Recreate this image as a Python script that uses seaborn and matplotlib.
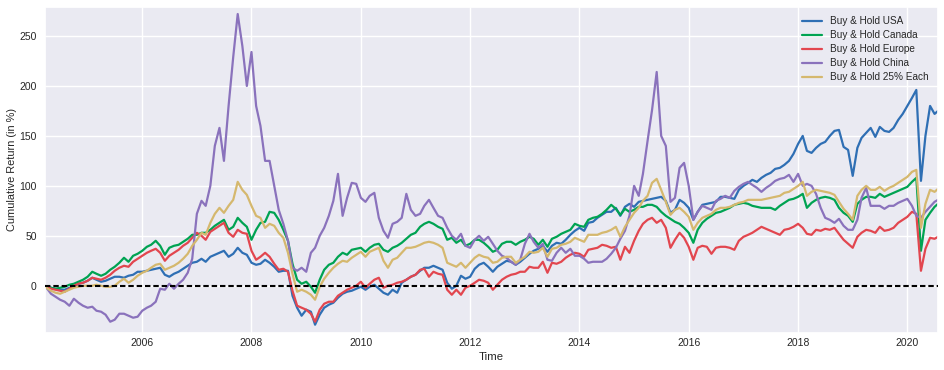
import pandas as pd
import matplotlib.pyplot as plt
import matplotlib.dates as mdates
import seaborn as sns

# month-start grid plus first and last trading day
months = pd.date_range("2004-04-01", "2020-07-01", freq="MS")
dates = pd.DatetimeIndex([pd.Timestamp("2004-03-22")]).append(months).append(
    pd.DatetimeIndex([pd.Timestamp("2020-07-24")]))

strategies = ["Buy & Hold USA", "Buy & Hold Canada", "Buy & Hold Europe",
              "Buy & Hold China", "Buy & Hold 25% Each"]

usa = [
    0,
    -1, -2, -3, -4, -4, -2, -1, 2, 3,
    5, 8, 6, 4, 5, 7, 9, 9, 8, 10, 11, 14,
    14, 15, 16, 17, 18, 11, 9, 12, 14, 17, 20, 23,
    24, 27, 24, 29, 31, 33, 35, 29, 32, 38, 33, 31,
    23, 21, 22, 26, 23, 19, 14, 15, 15, -10, -22, -30,
    -24, -26, -39, -29, -22, -19, -17, -12, -8, -6, -5, -3,
    -1, -4, -1, 1, -3, -7, -9, -4, -7, 3, 6, 9,
    11, 15, 18, 18, 20, 18, 16, 3, -3, 0, 10, 7,
    9, 17, 21, 23, 19, 14, 19, 22, 25, 24, 21, 24,
    28, 32, 35, 37, 40, 34, 40, 43, 42, 46, 51, 55,
    58, 55, 63, 64, 68, 71, 74, 74, 78, 70, 79, 82,
    79, 84, 85, 86, 87, 88, 89, 85, 73, 76, 86, 83,
    78, 66, 74, 81, 82, 83, 84, 89, 89, 88, 87, 96,
    100, 103, 106, 104, 108, 111, 113, 117, 118, 121, 125, 132,
    142, 150, 135, 133, 138, 142, 144, 150, 155, 156, 139, 136,
    110, 138, 148, 153, 158, 149, 159, 155, 154, 158, 166, 172,
    180, 188, 196, 105, 150, 180, 172,
    175,
]

canada = [
    0,
    -1, -2, -3, -2, -1, 1, 2, 4, 6,
    9, 14, 12, 10, 12, 16, 19, 23, 28, 24, 30, 32,
    35, 39, 41, 45, 40, 31, 38, 40, 41, 44, 47, 51,
    51, 53, 53, 56, 60, 63, 66, 56, 59, 68, 63, 59,
    46, 56, 63, 64, 74, 73, 66, 56, 45, 22, 6, 2,
    4, -1, -7, 6, 16, 21, 23, 29, 33, 31, 36, 37,
    38, 34, 38, 41, 42, 36, 34, 38, 40, 43, 47, 51,
    53, 59, 62, 64, 62, 59, 57, 46, 48, 43, 46, 40,
    42, 46, 46, 43, 39, 34, 36, 42, 44, 44, 41, 44,
    46, 49, 47, 41, 46, 39, 47, 49, 52, 54, 56, 62,
    60, 59, 66, 68, 69, 72, 76, 81, 77, 71, 77, 74,
    76, 79, 79, 81, 81, 79, 74, 70, 67, 64, 62, 58,
    53, 43, 56, 63, 67, 70, 73, 74, 76, 78, 81, 82,
    83, 82, 80, 79, 78, 78, 78, 76, 80, 83, 86, 87,
    89, 92, 78, 83, 86, 88, 89, 88, 86, 78, 73, 70,
    64, 82, 86, 89, 89, 88, 92, 89, 91, 93, 95, 97,
    99, 104, 108, 35, 66, 73, 79,
    82,
]

europe = [
    0,
    -1, -3, -4, -5, -6, -3, 0, 2, 3,
    5, 8, 7, 6, 8, 11, 15, 18, 20, 19, 24, 27,
    30, 33, 35, 37, 33, 25, 30, 33, 36, 40, 43, 48,
    53, 50, 46, 54, 57, 60, 63, 53, 49, 56, 53, 52,
    35, 26, 29, 33, 29, 22, 16, 17, 14, -5, -20, -22,
    -24, -28, -36, -24, -18, -16, -16, -10, -7, -4, -2, 0,
    4, -2, 2, 6, 8, -2, 0, 1, 3, 4, 6, 9,
    11, 16, 17, 9, 14, 12, 11, -4, -9, -4, -9, -2,
    0, 3, 6, 5, 3, -4, 1, 6, 9, 11, 12, 14,
    14, 19, 18, 18, 24, 13, 23, 22, 24, 28, 31, 33,
    32, 29, 36, 37, 38, 41, 40, 38, 39, 26, 39, 33,
    45, 55, 62, 66, 68, 63, 66, 58, 38, 46, 53, 48,
    39, 26, 38, 40, 39, 32, 38, 39, 39, 38, 36, 45,
    49, 51, 53, 56, 59, 57, 55, 53, 51, 56, 57, 59,
    62, 58, 52, 51, 56, 55, 57, 56, 58, 52, 46, 42,
    38, 49, 53, 56, 55, 53, 59, 55, 56, 58, 63, 66,
    69, 74, 72, 15, 37, 48, 47,
    49,
]

china = [
    0,
    -2, -8, -11, -14, -16, -20, -13, -17, -20,
    -22, -21, -25, -26, -29, -36, -34, -28, -28, -30, -32, -31,
    -25, -22, -20, -16, -3, -4, 2, -3, 2, 6, 13, 27,
    72, 85, 80, 100, 140, 158, 125, 180, 229, 272, 240, 200,
    234, 180, 160, 125, 125, 100, 76, 62, 45, 18, 15, 18,
    14, 33, 38, 50, 58, 70, 85, 112, 70, 88, 103, 102,
    88, 84, 90, 93, 68, 55, 48, 62, 64, 68, 92, 76,
    70, 72, 80, 86, 78, 70, 68, 58, 50, 46, 52, 40,
    38, 46, 50, 45, 49, 42, 35, 30, 28, 24, 21, 26,
    42, 52, 44, 38, 42, 26, 25, 33, 38, 33, 37, 30,
    30, 27, 23, 24, 24, 24, 27, 32, 38, 47, 55, 70,
    100, 90, 112, 145, 176, 214, 150, 140, 84, 88, 118, 123,
    100, 66, 74, 80, 78, 76, 85, 87, 90, 88, 95, 99,
    102, 104, 101, 98, 94, 98, 101, 105, 107, 108, 111, 104,
    112, 100, 102, 100, 92, 78, 68, 66, 63, 67, 60, 56,
    56, 66, 88, 98, 80, 80, 80, 77, 80, 80, 83, 85,
    87, 80, 70, 68, 74, 79, 84,
    86,
]

mixed = [
    0,
    -2, -5, -7, -8, -6, -4, -2, -1, 0,
    0, 0, 1, 0, -1, -1, 0, 4, 7, 3, 6, 10,
    13, 15, 18, 21, 22, 16, 18, 20, 23, 27, 32, 40,
    46, 53, 51, 63, 72, 78, 73, 80, 86, 104, 96, 91,
    80, 70, 68, 58, 62, 60, 53, 48, 33, 12, -6, -4,
    -6, -9, -14, -1, 7, 13, 18, 22, 25, 24, 28, 31,
    34, 29, 34, 36, 38, 25, 18, 26, 28, 33, 38, 38,
    39, 41, 43, 44, 43, 41, 38, 23, 21, 19, 23, 18,
    23, 28, 31, 29, 28, 23, 24, 28, 29, 29, 23, 26,
    29, 34, 33, 34, 38, 29, 37, 38, 41, 42, 44, 48,
    46, 44, 51, 51, 51, 53, 54, 56, 59, 49, 59, 66,
    73, 78, 85, 90, 103, 107, 96, 84, 71, 76, 78, 74,
    69, 56, 63, 68, 70, 72, 76, 78, 78, 79, 81, 83,
    84, 86, 86, 86, 86, 87, 88, 89, 90, 93, 94, 97,
    100, 104, 90, 94, 96, 95, 94, 93, 91, 84, 77, 72,
    66, 90, 96, 100, 96, 96, 99, 95, 98, 100, 103, 106,
    109, 114, 116, 58, 82, 96, 94,
    97,
]

colors = ["#2f6fb4", "#00a352", "#e2464f", "#8a72bc", "#d5b86e"]

series = [usa, canada, europe, china, mixed]
df = pd.concat([pd.DataFrame({"Time": dates, "Return": vals, "Strategy": name})
                for name, vals in zip(strategies, series)], ignore_index=True)

sns.set_theme(style="darkgrid")
plt.rcParams["font.family"] = ["Liberation Sans", "DejaVu Sans"]

fig, ax = plt.subplots(figsize=(9.45, 3.7), dpi=100)
sns.lineplot(data=df, x="Time", y="Return", hue="Strategy", hue_order=strategies,
             palette=colors, linewidth=1.6, estimator=None, ax=ax)
ax.axhline(0, color="black", linestyle=(0, (2.6, 1.4)), linewidth=1.5, zorder=3)

ax.set_xlim(dates[0], dates[-1])
ax.set_ylim(-47, 279)
ax.set_yticks(range(0, 251, 50))
ax.xaxis.set_major_locator(mdates.YearLocator(2))
ax.xaxis.set_major_formatter(mdates.DateFormatter("%Y"))
ax.tick_params(axis="x", length=0, labelsize=7.5, labelcolor="#262626", pad=4)
ax.tick_params(axis="y", length=0, labelsize=7.5, labelcolor="#262626", pad=6)
ax.set_xlabel("Time", fontsize=8.2, color="#262626", labelpad=3)
ax.set_ylabel("Cumulative Return (in %)", fontsize=7.9, color="#262626", labelpad=1.5)

sns.move_legend(ax, "upper right", title=None, fontsize=7.2, frameon=False,
                labelspacing=0.4)

fig.subplots_adjust(left=0.0476, right=0.9926, bottom=0.1008, top=0.981)
fig.savefig("out.png", dpi=100)
